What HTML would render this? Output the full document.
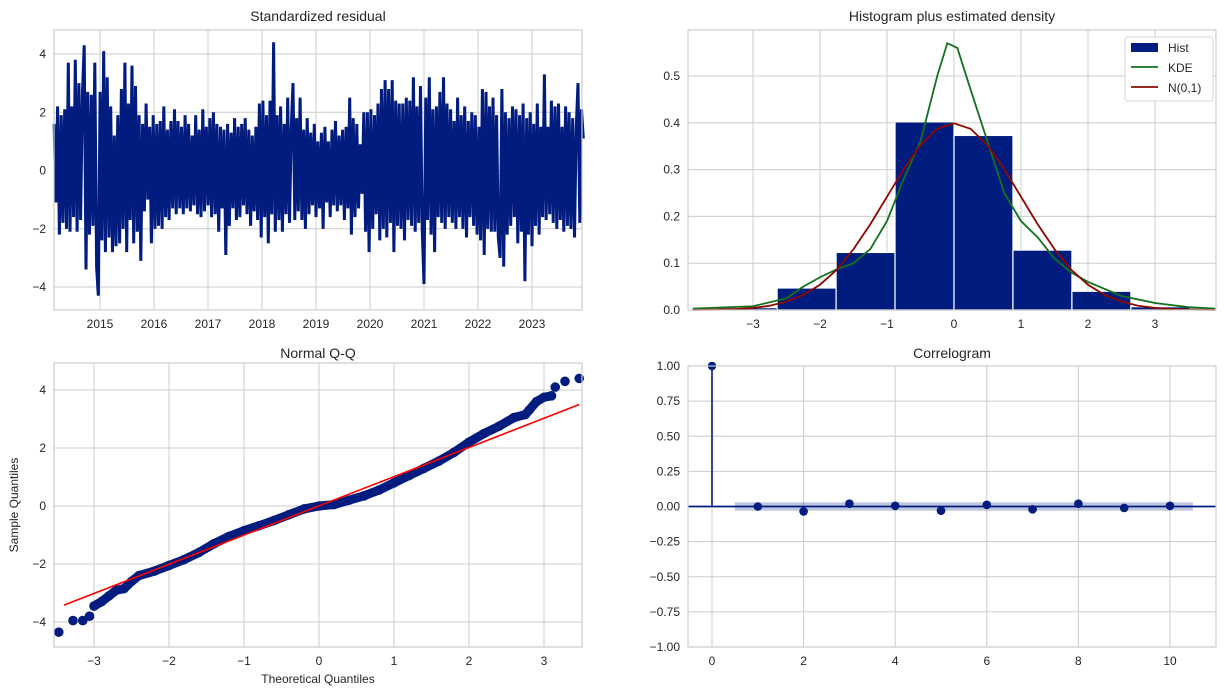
<!DOCTYPE html>
<html><head><meta charset="utf-8"><style>
body{margin:0;background:#fff;}
svg{display:block;font-family:"Liberation Sans",sans-serif;}
.g{stroke:#cccccc;stroke-width:1;}
.t{font-size:12px;fill:#262626;}
.ti{font-size:14px;fill:#262626;}
</style></head><body>
<svg id="fig" width="1226" height="695" xmlns="http://www.w3.org/2000/svg"></svg>
<script>
const residYears=[2015,2016,2017,2018,2019,2020,2021,2022,2023];
const residValues=[1.6,-1.1,2.2,-2.2,1.9,-1.8,2.1,-2.0,3.7,-2.1,
2.2,-1.6,3.8,-2.1,3.0,-1.7,2.6,4.3,-3.4,2.7,
-2.2,2.6,-1.9,3.7,-3.3,-4.3,2.7,-2.4,4.1,-2.8,
3.2,-2.3,2.2,-2.8,1.2,-2.6,1.9,-2.5,2.8,-2.0,
3.7,-2.8,2.3,-1.7,3.6,-2.5,2.9,-2.1,1.9,-3.1,
1.6,-1.4,2.3,-1.0,1.5,-2.5,1.9,-2.0,1.6,-1.9,
1.7,-2.0,2.2,-1.6,1.4,-1.7,1.7,-1.3,2.1,-1.5,
1.7,-1.3,1.5,-1.5,1.9,-1.3,1.6,-1.4,1.2,-1.2,
1.9,-1.5,1.4,-1.6,2.1,-1.4,1.5,-1.2,1.8,-1.6,
2.0,-1.5,1.6,-2.1,1.5,-1.3,1.4,-2.9,1.6,-1.9,
1.3,-1.3,1.8,-1.7,1.5,-1.6,1.6,-1.2,1.8,-1.5,
1.4,-1.9,1.2,-1.4,1.5,-1.7,2.3,-2.3,2.4,-1.6,
1.9,-2.5,2.4,-1.5,4.4,-2.1,1.9,-1.7,2.2,-2.1,
1.6,-1.5,2.5,-1.8,1.5,3.0,-1.7,1.8,-1.4,2.5,
-1.7,1.4,-2.0,1.8,-1.5,1.3,-1.2,1.6,-1.6,1.0,
-1.3,1.3,-2.0,1.5,-1.1,1.0,-1.6,1.4,-1.2,1.7,
-1.4,1.2,-1.2,1.4,-1.7,1.5,-1.3,2.5,-2.2,1.8,
-1.6,1.6,-1.3,0.9,-0.8,2.0,-2.1,2.0,-2.8,2.1,
-2.0,1.9,-1.5,2.3,-2.4,2.8,-2.0,3.1,-2.3,2.8,
-1.8,3.1,-2.8,2.4,-1.9,2.3,-2.0,2.3,-2.4,2.5,
-1.7,2.4,-1.9,3.2,-2.1,2.2,-1.8,2.9,-2.0,-3.9,
2.5,-1.7,3.2,-2.2,2.1,-2.8,2.2,-1.6,2.7,-1.8,
3.2,-2.0,2.3,-1.6,2.1,-1.8,1.7,-2.0,2.5,-1.6,
1.9,-2.0,2.2,-2.3,1.7,-1.6,2.0,-1.9,1.9,-2.2,
1.5,-2.4,2.8,-2.9,2.7,-2.0,2.2,-2.1,2.5,-2.1,
1.9,-2.3,-3.0,2.8,-3.3,2.0,-2.2,1.8,-1.9,2.2,
-1.6,2.1,-2.5,1.9,-2.1,2.3,-3.8,1.8,-2.2,2.0,
-2.6,1.6,-1.9,2.3,-2.2,1.5,-1.6,3.3,-1.7,1.5,
-1.5,2.4,-1.8,2.2,-2.0,2.3,-1.7,1.5,-2.1,2.2,
-1.9,2.0,-2.0,1.8,-2.3,1.4,3.0,-1.8,2.1,1.1];
const residStart=2014.15, residEnd=2023.95;
const residTicks=[-4,-2,0,2,4];

const histEdges=[-3.52,-2.64,-1.76,-0.88,0.0,0.88,1.76,2.64,3.52];
const histHeights=[0.005,0.047,0.123,0.402,0.373,0.128,0.040,0.007];
const kdeX=[-3.9,-3.0,-2.5,-2.25,-2.0,-1.75,-1.5,-1.25,-1.0,-0.75,-0.5,-0.25,-0.1,0.05,0.25,0.5,0.75,1.0,1.25,1.5,1.75,2.0,2.5,3.0,3.5,3.9];
const kdeY=[0.003,0.008,0.025,0.05,0.07,0.087,0.10,0.13,0.19,0.28,0.36,0.50,0.57,0.56,0.47,0.36,0.25,0.19,0.155,0.11,0.08,0.06,0.03,0.015,0.006,0.003];
const normX=[-3.9,-3.5,-3.25,-3,-2.75,-2.5,-2.25,-2,-1.75,-1.5,-1.25,-1,-0.75,-0.5,-0.25,0,0.25,0.5,0.75,1,1.25,1.5,1.75,2,2.25,2.5,2.75,3,3.25,3.5,3.9];
const normY=[0.0002,0.0009,0.002,0.0044,0.009,0.018,0.032,0.054,0.086,0.130,0.183,0.242,0.301,0.352,0.387,0.399,0.387,0.352,0.301,0.242,0.183,0.130,0.086,0.054,0.032,0.018,0.009,0.0044,0.002,0.0009,0.0002];
const histXTicks=[-3,-2,-1,0,1,2,3];
const histYTicks=[0.0,0.1,0.2,0.3,0.4,0.5];

const qqTheo=[-3.47,-3.28,-3.15,-3.06,-3.0,-2.9,-2.8,-2.7,-2.6,-2.5,-2.4,-2.2,-2.0,-1.8,-1.6,-1.4,-1.2,-1.0,-0.8,-0.6,-0.4,-0.2,0,0.2,0.4,0.6,0.8,1.0,1.2,1.4,1.6,1.8,2.0,2.2,2.4,2.6,2.75,2.8,2.9,3.0,3.1,3.15,3.28,3.47];
const qqSample=[-4.35,-3.95,-3.95,-3.8,-3.45,-3.3,-3.1,-2.9,-2.85,-2.6,-2.4,-2.25,-2.05,-1.85,-1.6,-1.3,-1.05,-0.85,-0.68,-0.5,-0.3,-0.1,0.0,0.05,0.2,0.35,0.55,0.8,1.05,1.3,1.55,1.85,2.2,2.5,2.75,3.05,3.15,3.3,3.6,3.75,3.8,4.1,4.3,4.4];
const qqLine=[[-3.4,-3.42],[3.47,3.5]];
const qqXTicks=[-3,-2,-1,0,1,2,3];
const qqYTicks=[-4,-2,0,2,4];

const acfLags=[0,1,2,3,4,5,6,7,8,9,10];
const acfValues=[1.0,0.0,-0.035,0.02,0.005,-0.03,0.012,-0.02,0.02,-0.01,0.005];
const acfConf=0.03;
const acfXTicks=[0,2,4,6,8,10];
const acfYTicks=[-1.0,-0.75,-0.5,-0.25,0.0,0.25,0.5,0.75,1.0];

const NS='http://www.w3.org/2000/svg';
const svg=document.getElementById('fig');
function el(tag,attrs,parent,text){const e=document.createElementNS(NS,tag);for(const k in attrs)e.setAttribute(k,attrs[k]);if(text!==undefined)e.textContent=text;(parent||svg).appendChild(e);return e;}
function scale(d0,d1,r0,r1){return v=>r0+(v-d0)/(d1-d0)*(r1-r0);}
function axesFrame(name){const g=el('g',{});return g;}
function grid(g,L,T,R,B,xs,xt,ys,yt,xfmt,yfmt){
  xt.forEach(v=>{const x=xs(v);const l=el('line',{x1:x,x2:x,y1:T,y2:B,class:'g'},g);
    const t=el('text',{x:x,y:B+18,'text-anchor':'middle',class:'t'},g,xfmt(v));});
  yt.forEach(v=>{const y=ys(v);const l=el('line',{x1:L,x2:R,y1:y,y2:y,class:'g'},g);
    const t=el('text',{x:L-8,y:y+4,'text-anchor':'end',class:'t'},g,yfmt(v));});
}
function border(g,L,T,R,B){const r=el('rect',{x:L,y:T,width:R-L,height:B-T,fill:'none',stroke:'#cccccc','stroke-width':1.2},g);}
function title(g,x,y,s){const t=el('text',{x:x,y:y,'text-anchor':'middle',class:'ti'},g,s);}
const mfmt=v=>(v<0?'\u2212'+Math.abs(v):String(v));
const ffmt=d=>v=>(v<0?'\u2212':'')+Math.abs(v).toFixed(d);

// Panel 1
(function(){const L=54,T=30,R=582,B=310;const g=axesFrame('residual-panel');
 const xs=scale(2015,2023,100,532), ys=scale(-4,4,287,54);
 grid(g,L,T,R,B,xs,residYears,ys,residTicks,String,mfmt);
 const n=residValues.length;const pts=residValues.map((v,i)=>{const yr=residStart+i*(residEnd-residStart)/(n-1);return xs(yr).toFixed(1)+','+ys(v).toFixed(1);}).join(' ');
 const p=el('polyline',{points:pts,fill:'none',stroke:'#001c7f','stroke-width':3,'stroke-linejoin':'bevel'},g);
 border(g,L,T,R,B);title(g,(L+R)/2,21,'Standardized residual');})();

// Panel 2
(function(){const L=688,T=30,R=1216,B=310;const g=axesFrame('histogram-panel');
 const xs=scale(0,3,954,1155), ys=scale(0,0.5,310,76);
 grid(g,L,T,R,B,xs,histXTicks,ys,histYTicks,mfmt,ffmt(1));
 histHeights.forEach((h,i)=>{const x0=xs(histEdges[i]),x1=xs(histEdges[i+1]);const r=el('rect',{x:x0,y:ys(h),width:x1-x0,height:ys(0)-ys(h),fill:'#001c7f',stroke:'#ffffff','stroke-width':1.2},g);});
 const k=el('polyline',{points:kdeX.map((x,i)=>xs(x)+','+ys(kdeY[i])).join(' '),fill:'none',stroke:'#12711c','stroke-width':1.8},g);
 const nl=el('polyline',{points:normX.map((x,i)=>xs(x)+','+ys(normY[i])).join(' '),fill:'none',stroke:'#8c0800','stroke-width':1.8},g);
 border(g,L,T,R,B);title(g,(L+R)/2,21,'Histogram plus estimated density');
 const lg=el('g',{},g);
 el('rect',{x:1125,y:37,width:88,height:64,rx:3,fill:'#fff',stroke:'#cccccc','stroke-opacity':0.8},lg);
 const e1=el('rect',{x:1131,y:43,width:27,height:9,fill:'#001c7f'},lg);
 el('line',{x1:1131,x2:1158,y1:67,y2:67,stroke:'#12711c','stroke-width':1.8},lg);
 el('line',{x1:1131,x2:1158,y1:87,y2:87,stroke:'#8c0800','stroke-width':1.8},lg);
 el('text',{x:1168,y:52,class:'t'},lg,'Hist');el('text',{x:1168,y:72,class:'t'},lg,'KDE');el('text',{x:1168,y:92,class:'t'},lg,'N(0,1)');})();

// Panel 3
(function(){const L=54,T=363,R=582,B=647;const g=axesFrame('qq-panel');
 const xs=scale(0,1,319,394), ys=scale(0,2,506,448);
 grid(g,L,T,R,B,xs,qqXTicks,ys,qqYTicks,mfmt,mfmt);
 const dense=qqTheo.map((x,i)=>[x,qqSample[i]]).filter(d=>d[0]>=-3.0&&d[0]<=3.1);
 const ln=el('polyline',{points:dense.map(d=>xs(d[0])+','+ys(d[1])).join(' '),fill:'none',stroke:'#001c7f','stroke-width':9,'stroke-linejoin':'round','stroke-linecap':'round'},g);
 qqTheo.forEach((x,i)=>{const c=el('circle',{cx:xs(x),cy:ys(qqSample[i]),r:4.8,fill:'#001c7f'},g);});
 const rl=el('line',{x1:xs(qqLine[0][0]),y1:ys(qqLine[0][1]),x2:xs(qqLine[1][0]),y2:ys(qqLine[1][1]),stroke:'#ff0000','stroke-width':1.6},g);
 border(g,L,T,R,B);title(g,(L+R)/2,358,'Normal Q-Q');
 const xt=el('text',{x:(L+R)/2,y:683,'text-anchor':'middle',class:'t'},g,'Theoretical Quantiles');
 const yt=el('text',{x:18,y:505,'text-anchor':'middle',class:'t',transform:'rotate(-90 18 505)'},g,'Sample Quantiles');})();

// Panel 4
(function(){const L=688,T=366,R=1216,B=647;const g=axesFrame('correlogram-panel');
 const xs=scale(0,10,712,1170), ys=scale(-1,1,647,366);
 grid(g,L,T,R,B,xs,acfXTicks,ys,acfYTicks,mfmt,ffmt(2));
 const band=el('rect',{x:xs(0.5),y:ys(acfConf),width:xs(10.5)-xs(0.5),height:ys(-acfConf)-ys(acfConf),fill:'#001c7f','fill-opacity':0.25},g);
 const z=el('line',{x1:L,x2:R,y1:ys(0),y2:ys(0),stroke:'#001c7f','stroke-width':1.8},g);
 acfLags.forEach((lag,i)=>{const x=xs(lag),y=ys(acfValues[i]);
  const s=el('line',{x1:x,x2:x,y1:ys(0),y2:y,stroke:'#001c7f','stroke-width':1.6},g);
  const c=el('circle',{cx:x,cy:y,r:4.3,fill:'#001c7f'},g);});
 border(g,L,T,R,B);title(g,(L+R)/2,358,'Correlogram');})();
</script>
</body></html>
